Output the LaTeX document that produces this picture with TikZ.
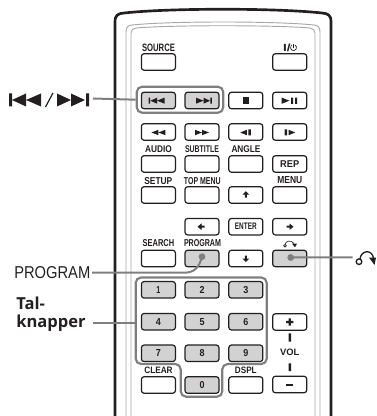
\documentclass[tikz,border=0pt]{standalone}
\usepackage{fontspec}
\setmainfont{Liberation Sans}
\newfontfamily\talfont{Open Sans}
\newlength\px
\setlength\px{0.75pt}
\newcommand{\fit}[3]{\resizebox{#1\px}{#2\px}{\bfseries #3}}
\definecolor{keygray}{HTML}{D2D2D2}
\definecolor{leadgray}{HTML}{7F7F7F}
\definecolor{bodygray}{HTML}{A8A8A8}
\definecolor{ink}{HTML}{231F20}
\tikzset{
  x=0.75pt,y=-0.75pt,
  keybtn/.style={draw=ink,line width=0.9pt,rounded corners=2pt,fill=white,minimum width=34\px,minimum height=16.5\px,inner sep=0pt,text=ink},
  graybtn/.style={keybtn,fill=keygray},
  caption/.style={inner sep=0pt,text=ink},
  leader/.style={draw=leadgray,line width=1.5pt},
  grouping/.style={draw=leadgray,line width=1.6pt,rounded corners=4pt},
  bodyline/.style={draw=bodygray,line width=0.7pt},
  shell/.style={draw=ink,line width=2pt},
  glyph/.style={fill=ink,draw=none},
  sprev/.pic={\path[glyph] (-8.3,-3)--(-6.9,-3)--(-6.9,3)--(-8.3,3)--cycle (-6.6,0)--(0,-3)--(0,3)--cycle (0,0)--(7.5,-3)--(7.5,3)--cycle;},
  srew/.pic={\path[glyph] (-7,0)--(0,-2.7)--(0,2.7)--cycle (0,0)--(7,-2.7)--(7,2.7)--cycle;},
  sslow/.pic={\path[glyph] (-5.5,0)--(1,-2.7)--(1,2.7)--cycle (2.5,-3)--(5,-3)--(5,3)--(2.5,3)--cycle;},
  sarrow/.pic={\path[glyph] (4,0)--(0,-3.3)--(0,3.3)--cycle (-3,-1)--(0,-1)--(0,1)--(-3,1)--cycle;},
  sarrowup/.pic={\path[glyph] (0,-3.5)--(-3.5,0)--(3.5,0)--cycle (-1,0)--(1,0)--(1,3)--(-1,3)--cycle;},
}
\begin{document}
\begin{tikzpicture}
\useasboundingbox (0,0) rectangle (376,416);
% body
\draw[shell,line join=round] (115,416)--(115,22) .. controls (115,15) and (118,13.5) .. (124,13) .. controls (170,8) and (276,8) .. (322,13) .. controls (328,13.5) and (331,15) .. (331,22)--(331,416);
\draw[bodyline] (126,416)--(126,32) .. controls (126,27) and (128,25.5) .. (132,25) .. controls (170,21) and (276,21) .. (314,25) .. controls (318,25.5) and (320,27) .. (320,32)--(320,416);
\draw[bodyline] (131,416)--(131,33) .. controls (131,30) and (133,28.5) .. (136,28) .. controls (170,25) and (276,25) .. (310,28) .. controls (313,28.5) and (315,30) .. (315,33)--(315,416);
% groups
\node[grouping,minimum width=86.5\px,minimum height=26\px,inner sep=0pt] (skipgroup) at (180,99.7) {};
\draw[grouping] (135.7,277.5)--(266.7,277.5)--(266.7,364)--(222.3,364)--(222.3,396.7)--(180.7,396.7)--(180.7,364)--(135.7,364)--cycle;
\coordinate (padedge) at (135.7,323);
% row 1
\node[keybtn] (source) at (158.4,62) {};
\node[keybtn] (power) at (289.7,62) {};
\node[caption] (lsource) at (158.5,47.8) {\fit{33}{7.5}{SOURCE}};
\node[caption] (lpower) at (286.8,47.8) {\fit{7.5}{7.5}{I/}};
\draw[ink,line width=0.5pt] (295,45) arc[start angle=-60,end angle=240,radius=3];
\draw[ink,line width=0.5pt] (293.5,43.6)--(293.5,48);
% row 2
\node[graybtn] (prev) at (158.4,100.5) {};
\node[graybtn] (next) at (202,100.5) {};
\node[keybtn] (stop) at (245.8,100.5) {};
\node[keybtn] (playpause) at (289.7,100.5) {};
\pic at (157,100.7) {sprev};
\pic[xscale=-1] at (203.5,100.7) {sprev};
\path[glyph] (242.6,97.5) rectangle (249,103.7);
\path[glyph] (281.7,97.6)--(289.5,100.7)--(281.7,103.8)--cycle (291,97.6) rectangle (293,103.8) (295,97.6) rectangle (297,103.8);
% row 3
\node[keybtn] (rew) at (158.4,132) {};
\node[keybtn] (fwd) at (202,132) {};
\node[keybtn] (slowb) at (245.8,132) {};
\node[keybtn] (slowf) at (289.7,132) {};
\pic at (158.4,132.5) {srew};
\pic[xscale=-1] at (202,132.5) {srew};
\pic at (245.8,132.5) {sslow};
\pic[xscale=-1] at (289.7,132.5) {sslow};
% row 4
\node[caption] (laudio) at (158.4,149) {\fit{26.7}{6.8}{AUDIO}};
\node[caption] (lsubtitle) at (202,149) {\fit{34}{6.8}{SUBTITLE}};
\node[caption] (langle) at (246,149) {\fit{29}{6.8}{ANGLE}};
\node[keybtn] (audio) at (158.4,164) {};
\node[keybtn] (subtitle) at (202,164) {};
\node[keybtn] (angle) at (245.8,164) {};
\node[keybtn] (rep) at (289.7,164) {\fit{19}{6.8}{REP}};
% row 5
\node[caption] (lsetup) at (158.3,180.7) {\fit{28}{7}{SETUP}};
\node[caption] (ltopmenu) at (202.3,180.7) {\fit{36.7}{7}{TOP MENU}};
\node[caption] (lmenu) at (289.8,180.5) {\fit{25}{7}{MENU}};
\node[keybtn] (setup) at (158.4,195) {};
\node[keybtn] (topmenu) at (202,195) {};
\node[keybtn] (up) at (245.8,195) {};
\node[keybtn] (menu) at (289.7,195) {};
\pic at (245.8,194.7) {sarrowup};
% row 6
\node[keybtn] (left) at (202,226.7) {};
\node[keybtn] (enter) at (245.8,226.7) {\fit{21.7}{6.5}{ENTER}};
\node[keybtn] (right) at (289.7,226.7) {};
\pic[xscale=-1] at (201.5,226.7) {sarrow};
\pic at (289.5,226.7) {sarrow};
% row 7
\node[caption] (lsearch) at (158.5,243.5) {\fit{31.6}{7}{SEARCH}};
\node[caption] (lprogram) at (202.5,243.5) {\fit{37}{7}{PROGRAM}};
\node[keybtn] (search) at (158.4,258.5) {};
\node[graybtn] (program) at (202,258.5) {};
\node[keybtn] (down) at (245.8,258.5) {};
\node[graybtn] (back) at (289.7,258.5) {};
\pic[yscale=-1] at (245.8,258.5) {sarrowup};
% small return symbol
\draw[ink,line width=0.5pt] (285,245.5) .. controls (285,240.5) and (291,239.5) .. (294,243.5);
\draw[ink,line width=0.5pt,fill=white] (285,245.8) circle[radius=1.4];
\path[glyph] (292,243.6)--(297,243.6)--(295,247.4)--cycle;
% number pad
\node[graybtn] (n1) at (158.4,289.8) {\fit{4}{7}{1}};
\node[graybtn] (n2) at (202,289.8) {\fit{5}{7}{2}};
\node[graybtn] (n3) at (245.8,289.8) {\fit{5}{7}{3}};
\node[graybtn] (n4) at (158.4,321.7) {\fit{5}{7}{4}};
\node[graybtn] (n5) at (202,321.7) {\fit{5}{7}{5}};
\node[graybtn] (n6) at (245.8,321.7) {\fit{5}{7}{6}};
\node[graybtn] (n7) at (158.4,353.3) {\fit{5}{7}{7}};
\node[graybtn] (n8) at (202,353.3) {\fit{5}{7}{8}};
\node[graybtn] (n9) at (245.8,353.3) {\fit{5}{7}{9}};
\node[graybtn] (n0) at (202,385) {\fit{5}{7}{0}};
\node[caption] (lclear) at (158.5,370) {\fit{28.4}{6.5}{CLEAR}};
\node[caption] (ldspl) at (245.8,370) {\fit{21.7}{6.5}{DSPL}};
\node[keybtn] (clear) at (158.4,385) {};
\node[keybtn] (dspl) at (245.8,385) {};
% volume
\node[keybtn] (plus) at (289.7,322) {};
\node[keybtn] (minus) at (289.7,384.5) {};
\path[glyph] (286,320.9) rectangle (293.4,323) (288.7,318.3) rectangle (290.8,325.6);
\path[glyph] (286,383.5) rectangle (293.4,385.6);
\path[glyph] (288.6,333.3) rectangle (291,341.7) (288.6,363.3) rectangle (291,371);
\node[caption] (lvol) at (289.7,352.3) {\fit{19.3}{6.5}{VOL}};
% outside labels
\node[caption,anchor=west] (talk) at (16,303.5) {\talfont\bfseries\fontsize{12.4pt}{12.4pt}\selectfont Tal-};
\node[caption,anchor=west] (knap) at (16,323.5) {\talfont\bfseries\fontsize{12.4pt}{12.4pt}\selectfont knapper};
\node[caption,anchor=west] (prog) at (14,273) {\resizebox{76\px}{12\px}{PROGRAM}};
\coordinate (skipend) at (93,98.5);
\coordinate (knapend) at (93,323);
% big skip symbols
\path[glyph] (9,93.5) rectangle (12,106.5) (12,100)--(26,93.5)--(26,106.5)--cycle (26,100)--(41,93.5)--(41,106.5)--cycle;
\draw[ink,line width=0.9pt] (45.5,107)--(53,93);
\path[glyph] (57,93.5)--(71,100)--(57,106.5)--cycle (71,93.5)--(85,100)--(71,106.5)--cycle (86,93.5) rectangle (89,106.5);
% big return symbol
\draw[ink,line width=1pt] (360,259) .. controls (361,250) and (372,249) .. (373.5,258);
\draw[ink,line width=1pt,fill=white] (359,261.7) circle[radius=2.8];
\path[glyph] (369,257.5)--(376,257.5)--(374.5,265)--cycle;
\coordinate (backend) at (352.7,257.3);
% leaders
\draw[leader] (skipend)--(skipgroup.west);
\draw[leader] (knapend)--(padedge);
\fill[leadgray] (202,256.7) circle[radius=3.4];
\draw[leader] (prog.east) ++(1.5,-0.3) -- (184,272.7) .. controls (194,272.7) and (199,268) .. (202,256.7);
\fill[leadgray] (290.7,257.5) circle[radius=3.4];
\draw[leader] (290.7,257.4)--(backend);
\end{tikzpicture}
\end{document}
